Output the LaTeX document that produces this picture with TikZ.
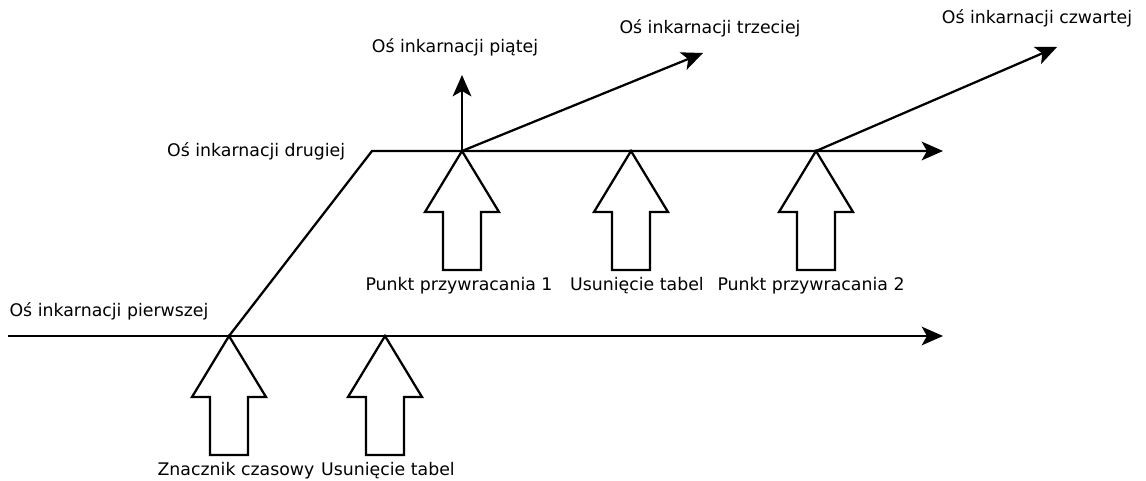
\documentclass[tikz,border=0pt]{standalone}
\usepackage{fontspec}
\setmainfont{DejaVu Sans}
\usepackage{tikz}
\usetikzlibrary{arrows.meta,positioning,calc}
\tikzset{
    axis/.style={
        draw,
        line width=1.7pt,
        -{Stealth[length=16pt,width=14pt,inset=4pt]}
    },
    marker/.style={
        draw,
        line width=1.7pt,
        line join=miter,
        fill=white
    },
    axlabel/.style={
        font=\fontsize{13}{16}\selectfont,
        inner sep=1pt
    }
}

\begin{document}
\begin{tikzpicture}[x=0.75pt, y=-0.75pt]
        \useasboundingbox (0,0) rectangle (1146,481);

        % Points
        \coordinate (start) at (8,336);
        \coordinate (end1) at (943,336);
        \coordinate (zc) at (229,336);
        \coordinate (ut1) at (385,336);
        \coordinate (bend) at (372,151);
        \coordinate (end2) at (943,151);
        \coordinate (pp1) at (462,151);
        \coordinate (ut2) at (631,151);
        \coordinate (pp2) at (816,151);
        \coordinate (end5) at (462,75);
        \coordinate (end3) at (703,53);
        \coordinate (end4) at (1057,47);

        % Axis labels
        \node (first) [axlabel, anchor=west] at (8,311) {Oś inkarnacji pierwszej};
        \node (second) [axlabel, left=19pt of bend] {Oś inkarnacji drugiej};
        \node (fifth) [axlabel] at (455,47) {Oś inkarnacji piątej};
        \node (third) [axlabel] at (710,28) {Oś inkarnacji trzeciej};
        \node (fourth) [axlabel] at (1037,18) {Oś inkarnacji czwartej};

        % Arrows
        \draw[axis] (start) -- (end1);
        \draw[axis] (zc) -- (bend) -- (end2);
        \draw[axis] (pp1) -- (end5);
        \draw[axis] (pp1) -- (end3);
        \draw[axis] (pp2) -- (end4);

        % Markers
        \foreach \p/\dx/\txt in {zc/7/Znacznik czasowy, ut1/3/Usunięcie tabel, pp1/-3/Punkt przywracania 1, ut2/6/Usunięcie tabel, pp2/-5/Punkt przywracania 2} {
            \draw[marker] (\p) -- ++(37,61) -- ++(-18,0) -- ++(0,58) -- ++(-38,0) -- ++(0,-58) -- ++(-18,0) -- cycle;
            \node[axlabel] (\p-label) at ($(\p)+(\dx,135)$) {\txt};
        }
    \end{tikzpicture}
\end{document}
